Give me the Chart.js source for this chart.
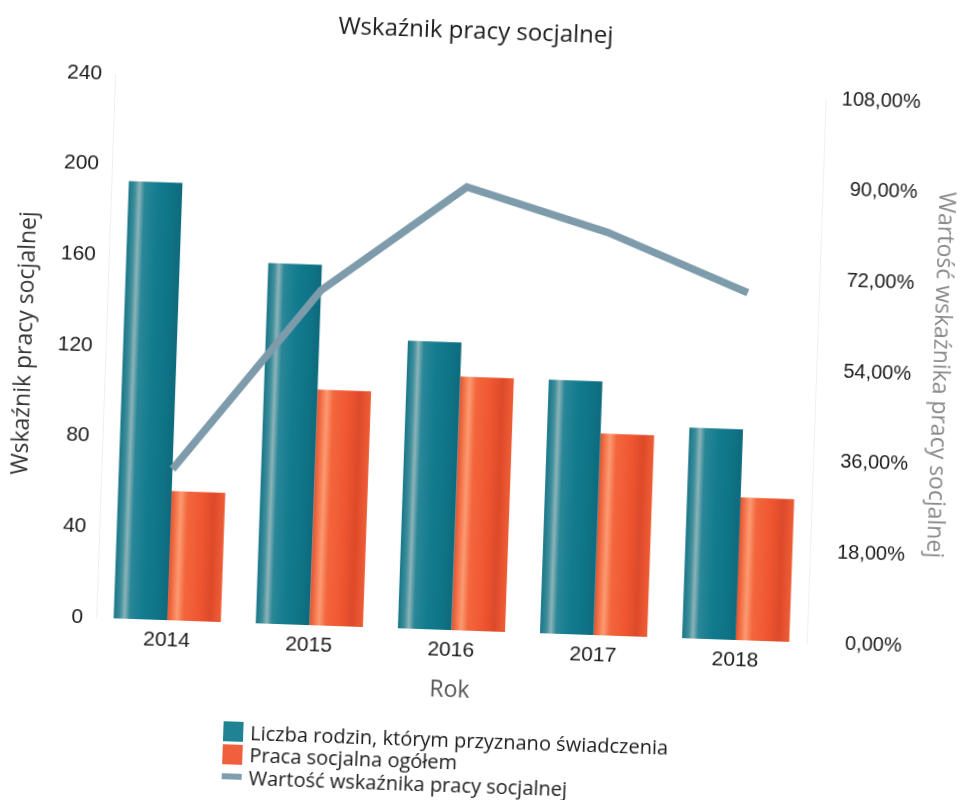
<!DOCTYPE html>
<html lang="pl">
<head>
<meta charset="utf-8">
<title>Wskaźnik pracy socjalnej</title>
<script src="https://cdn.jsdelivr.net/npm/chart.js@4/dist/chart.umd.min.js"></script>
<style>
  html, body { margin: 0; padding: 0; background: #fff; overflow: hidden; }
  #wrap {
    position: relative; width: 962px; height: 800px;
    transform: rotate(2deg); transform-origin: 481px 400px;
  }
  #title {
    position: absolute; left: 263px; width: 400px; top: 15px; text-align: center;
    font-family: "Open Sans", sans-serif; font-size: 24px; line-height: 30px; color: #1a1a1a;
  }
  #legend {
    position: absolute; left: 235px; top: 729px;
    font-family: "Open Sans", sans-serif; font-size: 20px; color: #1a1a1a;
  }
  .item { display: flex; align-items: center; height: 22.5px; white-space: nowrap; }
  .swatch { width: 20px; height: 20px; margin-right: 7px; flex: none; }
  .swatch.line { height: 6px; }
</style>
</head>
<body>
<div id="wrap">
  <canvas id="chart" width="962" height="800"></canvas>
  <div id="title">Wskaźnik pracy socjalnej</div>
  <div id="legend"></div>
</div>
<script>
// dane
const years = ["2014", "2015", "2016", "2017", "2018"];
const rodziny = [193, 159, 127, 112, 93];
const pracaOgolem = [57, 104, 112, 89, 63];
const wskaznik = [30, 66.5, 88, 80, 69];

const leftTicks = [0, 40, 80, 120, 160, 200, 240];
const rightTicks = [0, 18, 36, 54, 72, 90, 108];

const seriesNames = [
  "Liczba rodzin, którym przyznano świadczenia",
  "Praca socjalna ogółem",
  "Wartość wskaźnika pracy socjalnej",
];

const font = "'Open Sans', sans-serif";
const tickFont = "'Liberation Sans', Arial, sans-serif";
const groupPct = 0.754;

const tealStops = [[0, "#177587"], [0.12, "#3f8f9c"], [0.2, "#8db3b8"], [0.3, "#2a8798"],
  [0.55, "#127b8e"], [0.85, "#0f7285"], [1, "#0d6a7c"]];
const orangeStops = [[0, "#e2522f"], [0.1, "#f6794f"], [0.18, "#fb9a72"], [0.3, "#f4663d"],
  [0.6, "#ee5530"], [0.8, "#dc4a2a"], [1, "#ef5d37"]];

// gradient per bar, placed with the x scale
function barFill(stops, solid, side) {
  return (c) => {
    const chart = c.chart;
    const area = chart.chartArea;
    const xs = chart.scales.x;
    if (!area || !xs || c.type !== "data") return solid;
    const center = xs.getPixelForValue(c.dataIndex);
    const bw = (area.right - area.left) / years.length * groupPct / 2;
    const x0 = side === 0 ? center - bw : center;
    const g = chart.ctx.createLinearGradient(x0, 0, x0 + bw, 0);
    stops.forEach(([o, col]) => g.addColorStop(o, col));
    return g;
  };
}

const pct = (v) => v.toFixed(2).replace(".", ",") + "%";

const ctx = document.getElementById("chart").getContext("2d");
const chart = new Chart(ctx, {
  data: {
    labels: years,
    datasets: [
      {
        type: "bar",
        label: seriesNames[0],
        data: rodziny,
        yAxisID: "y",
        backgroundColor: barFill(tealStops, "#177d8f", 0),
        categoryPercentage: groupPct,
        barPercentage: 1,
        order: 1,
      },
      {
        type: "bar",
        label: seriesNames[1],
        data: pracaOgolem,
        yAxisID: "y",
        backgroundColor: barFill(orangeStops, "#f05a34", 1),
        categoryPercentage: groupPct,
        barPercentage: 1,
        order: 1,
      },
      {
        type: "line",
        label: seriesNames[2],
        data: wskaznik,
        yAxisID: "y1",
        borderColor: "#7d9bab",
        borderWidth: 7.5,
        pointRadius: 0,
        tension: 0,
        fill: false,
        order: 0,
      },
    ],
  },
  options: {
    responsive: false,
    devicePixelRatio: 1,
    animation: false,
    layout: { padding: { left: 0, right: 52, top: 87, bottom: 90 } },
    plugins: {
      legend: { display: false },
      tooltip: { enabled: false },
      title: { display: false },
    },
    scales: {
      x: {
        grid: { display: false },
        border: { display: false },
        ticks: { color: "#1a1a1a", font: { family: tickFont, size: 21 }, padding: 0 },
        title: {
          display: true, text: "Rok", color: "#555",
          font: { family: font, size: 23 }, padding: { top: 0, bottom: 5 },
        },
        afterFit: (s) => { s.height = 79; },
      },
      y: {
        position: "left",
        min: 0, max: 240,
        afterBuildTicks: (s) => { s.ticks = leftTicks.map((v) => ({ value: v })); },
        grid: { display: false, drawTicks: false },
        border: { display: true, color: "#efefef", dash: [2, 4] },
        ticks: { color: "#1a1a1a", font: { family: tickFont, size: 21 }, padding: 13 },
        title: {
          display: true, text: "Wskaźnik pracy socjalnej", color: "#333",
          font: { family: font, size: 23 }, padding: { top: 10, bottom: 0 },
        },
        afterFit: (s) => { s.width = 104; },
      },
      y1: {
        position: "right",
        min: 0, max: 108,
        afterBuildTicks: (s) => { s.ticks = rightTicks.map((v) => ({ value: v })); },
        grid: { display: false, drawTicks: false },
        border: { display: true, color: "#f0f0f0", dash: [2, 4] },
        ticks: {
          color: "#1a1a1a", font: { family: tickFont, size: 20 }, padding: 15,
          crossAlign: "far",
          callback: (v) => pct(v),
        },
        title: {
          display: true, text: "Wartość wskaźnika pracy socjalnej", color: "#8a8a8a",
          font: { family: font, size: 23 }, padding: { top: -42, bottom: 0 },
        },
        afterFit: (s) => { s.width = 95; },
      },
    },
  },
});

// legend below the chart, one row per series
const swatches = ["#1f8394", "#f0603c", "#7f9fae"];
const legend = document.getElementById("legend");
seriesNames.forEach((name, i) => {
  const row = document.createElement("div");
  row.className = "item";
  const sw = document.createElement("span");
  sw.className = i === 2 ? "swatch line" : "swatch";
  sw.style.background = swatches[i];
  const txt = document.createElement("span");
  txt.textContent = name;
  row.appendChild(sw);
  row.appendChild(txt);
  legend.appendChild(row);
});
</script>
</body>
</html>
